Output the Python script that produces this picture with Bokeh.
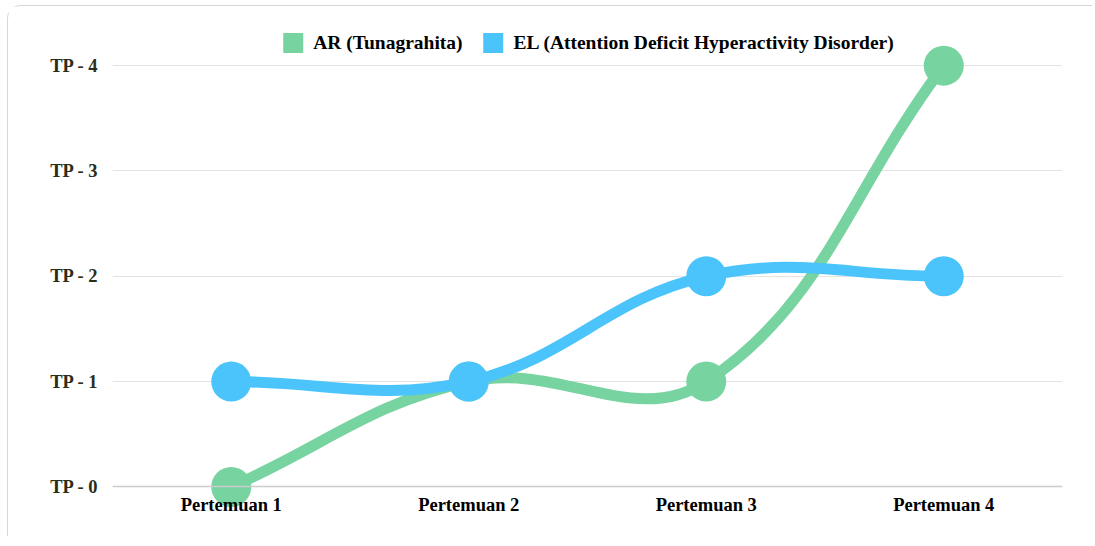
import math
from bokeh.plotting import figure
from bokeh.models import Legend, LegendItem, FixedTicker, ColumnDataSource
from bokeh.embed import file_html
from bokeh.resources import INLINE

# ---------------- data ----------------
categories = ["Pertemuan 1", "Pertemuan 2", "Pertemuan 3", "Pertemuan 4"]
ar_values = [0, 1, 1, 4]
el_values = [1, 1, 2, 2]
y_tick_values = [0, 1, 2, 3, 4]
y_tick_labels = ["TP - 0", "TP - 1", "TP - 2", "TP - 3", "TP - 4"]
series_names = ["AR (Tunagrahita)", "EL (Attention Deficit Hyperactivity Disorder)"]

GREEN = "#77d3a0"
BLUE = "#4bc4fb"
FONT = "Liberation Serif"

x_pos = list(range(1, len(categories) + 1))

FRAME_W, FRAME_H = 950, 495
X_RANGE = (0.5, 4.5)
Y_RANGE = (-0.3, 4.4)
SX = FRAME_W / (X_RANGE[1] - X_RANGE[0])
SY = FRAME_H / (Y_RANGE[1] - Y_RANGE[0])


def spline_segments(xs, ys, t=0.4):
    """Chart.js style cubic control points (distances in pixel space)."""
    n = len(xs)
    cps = []
    for i in range(n):
        px, py = (xs[i - 1], ys[i - 1]) if i > 0 else (xs[i], ys[i])
        nx, ny = (xs[i + 1], ys[i + 1]) if i < n - 1 else (xs[i], ys[i])
        cx, cy = xs[i], ys[i]
        d01 = math.hypot((cx - px) * SX, (cy - py) * SY)
        d12 = math.hypot((nx - cx) * SX, (ny - cy) * SY)
        tot = d01 + d12
        s01 = d01 / tot if tot else 0.0
        s12 = d12 / tot if tot else 0.0
        fa, fb = t * s01, t * s12
        cps.append(((cx - fa * (nx - px), cy - fa * (ny - py)),
                    (cx + fb * (nx - px), cy + fb * (ny - py))))
    seg = dict(x0=[], y0=[], x1=[], y1=[], cx0=[], cy0=[], cx1=[], cy1=[])
    for i in range(n - 1):
        seg["x0"].append(xs[i]); seg["y0"].append(ys[i])
        seg["x1"].append(xs[i + 1]); seg["y1"].append(ys[i + 1])
        seg["cx0"].append(cps[i][1][0]); seg["cy0"].append(cps[i][1][1])
        seg["cx1"].append(cps[i + 1][0][0]); seg["cy1"].append(cps[i + 1][0][1])
    return ColumnDataSource(seg)


p = figure(
    frame_width=FRAME_W, frame_height=FRAME_H,
    x_range=X_RANGE, y_range=Y_RANGE,
    output_backend="svg", toolbar_location=None,
    min_border_left=104, min_border_top=17, min_border_right=30, min_border_bottom=18,
)
p.outline_line_color = None
p.background_fill_color = "white"
p.border_fill_color = "white"
p.styles = {
    "margin-left": "7px",
    "margin-top": "5px",
    "border-top": "1.5px solid #d6d6d6",
    "border-left": "1.5px solid #d6d6d6",
    "border-top-left-radius": "14px",
}

# grid
p.xgrid.grid_line_color = None
p.ygrid.grid_line_color = "#e3e3e3"
p.ygrid.grid_line_width = 1

# y axis
p.yaxis.ticker = FixedTicker(ticks=y_tick_values)
p.yaxis.major_label_overrides = {v: l for v, l in zip(y_tick_values, y_tick_labels)}
p.yaxis.axis_line_color = None
p.yaxis.major_tick_line_color = None
p.yaxis.minor_tick_line_color = None
p.yaxis.major_tick_out = 0
p.yaxis.major_tick_in = 0
p.yaxis.major_label_standoff = 14
p.yaxis.major_label_text_font = FONT
p.yaxis.major_label_text_font_style = "bold"
p.yaxis.major_label_text_font_size = "18.5px"
p.yaxis.major_label_text_color = "#2a2d1a"

# x axis
p.xaxis.ticker = FixedTicker(ticks=x_pos)
p.xaxis.major_label_overrides = {v: l for v, l in zip(x_pos, categories)}
p.xaxis.fixed_location = 0
p.xaxis.axis_line_color = "#cccccc"
p.xaxis.axis_line_width = 1.5
p.xaxis.major_tick_line_color = None
p.xaxis.minor_tick_line_color = None
p.xaxis.major_tick_out = 0
p.xaxis.major_tick_in = 0
p.xaxis.major_label_standoff = 8
p.xaxis.major_label_text_font = FONT
p.xaxis.major_label_text_font_style = "bold"
p.xaxis.major_label_text_font_size = "18.5px"
p.xaxis.major_label_text_color = "#000000"

# series
swatches = []
for vals, color in ((ar_values, GREEN), (el_values, BLUE)):
    src = spline_segments(x_pos, vals)
    p.bezier(x0="x0", y0="y0", x1="x1", y1="y1", cx0="cx0", cy0="cy0",
             cx1="cx1", cy1="cy1", source=src, line_color=color, line_width=11)
    p.scatter(x_pos, vals, size=40, marker="circle", fill_color=color,
              line_color=color, line_width=0)
    # zero-size rects: only used as square legend swatches
    swatches.append(p.rect(x=x_pos, y=vals, width=0, height=0,
                           fill_color=color, line_color=None))

legend = Legend(
    items=[LegendItem(label=series_names[0], renderers=[swatches[0]]),
           LegendItem(label=series_names[1], renderers=[swatches[1]])],
    orientation="horizontal", location="top_center",
    glyph_width=25, glyph_height=25, label_height=25,
    label_standoff=8, spacing=18, padding=0, margin=7,
    border_line_color=None, background_fill_alpha=0,
    label_text_font=FONT, label_text_font_style="bold",
    label_text_font_size="19.5px", label_text_color="#000000",
)
p.add_layout(legend, "center")

open("out.html", "w").write(file_html(p, INLINE))
